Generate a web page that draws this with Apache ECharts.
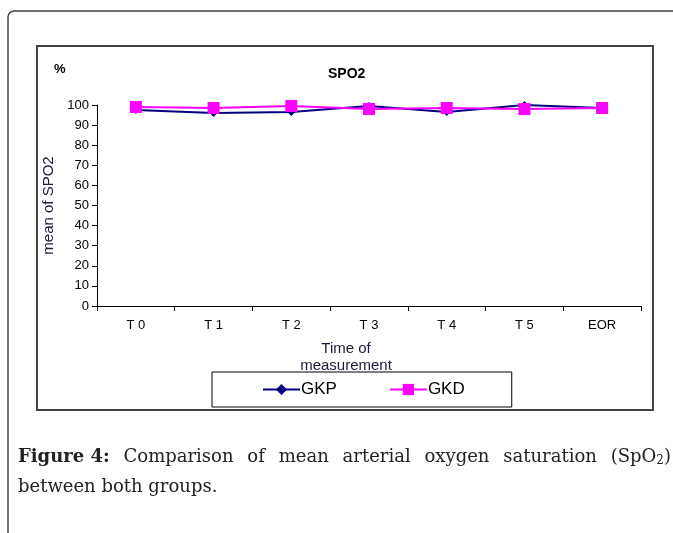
<!DOCTYPE html>
<html>
<head>
<meta charset="utf-8">
<script src="https://cdn.jsdelivr.net/npm/echarts@6/dist/echarts.min.js"></script>
<style>
html,body{margin:0;padding:0;background:#fff;}
#c{width:673px;height:533px;}
</style>
</head>
<body>
<div id="c"></div>
<script>
const categories = ['T 0', 'T 1', 'T 2', 'T 3', 'T 4', 'T 5', 'EOR'];
const gkp = [97.5, 96, 96.5, 99.5, 96.5, 100, 98.5];
const gkd = [99, 98.5, 99.5, 98, 98.5, 98, 98.5];
const yTicks = [0, 10, 20, 30, 40, 50, 60, 70, 80, 90, 100];

const chart = echarts.init(document.getElementById('c'), null, {renderer: 'canvas'});

// caption justification helper
const ctx = document.createElement('canvas').getContext('2d');
function tw(text, font) { ctx.font = font; return ctx.measureText(text).width; }
const capFontR = '18px "DejaVu Serif"';
const capFontB = 'bold 18px "DejaVu Serif"';
const subFont = '12px "DejaVu Serif"';
const line1 = [
  {t: 'Figure 4:', b: true},
  {t: 'Comparison'}, {t: 'of'}, {t: 'mean'}, {t: 'arterial'},
  {t: 'oxygen'}, {t: 'saturation'}, {t: '(SpO', sub: true}
];
const capLeft = 18, capRight = 671;
const subW = tw('2', subFont) + tw(')', capFontR);
let total = 0;
line1.forEach(w => { w.w = tw(w.t, w.b ? capFontB : capFontR) + (w.sub ? subW : 0); total += w.w; });
const gap = (capRight - capLeft - total) / (line1.length - 1);
const capEls = [];
let cx = capLeft;
line1.forEach(w => {
  if (w.sub) {
    capEls.push({type: 'text', left: cx, top: 448, style: {
      text: '{a|(SpO}{s|2}{a|)}',
      rich: {a: {font: capFontR, fill: '#222'}, s: {font: subFont, fill: '#222', verticalAlign: 'bottom', padding: [8, 0, 0, 0]}}
    }});
  } else {
    capEls.push({type: 'text', left: cx, top: 448, style: {text: w.t, font: w.b ? capFontB : capFontR, fill: '#222'}});
  }
  cx += w.w + gap;
});
capEls.push({type: 'text', left: capLeft, top: 478, style: {text: 'between both groups.', font: capFontR, fill: '#222'}});

const option = {
  backgroundColor: '#fff',
  animation: false,
  title: {
    text: 'SPO2', left: 323, top: 62,
    textStyle: {fontFamily: 'Liberation Sans', fontSize: 14, fontWeight: 'bold', color: '#000'}
  },
  grid: {left: 97, right: 32, top: 105, bottom: 227, containLabel: false},
  legend: {
    left: 212, top: 372, width: 300,
    padding: [9, 47, 9, 50],
    borderColor: '#000', borderWidth: 1,
    itemWidth: 37, itemHeight: 14, itemGap: 52,
    textStyle: {fontFamily: 'Liberation Sans', fontSize: 17, color: '#000', padding: [0, 0, 0, -4]},
    data: ['GKP', 'GKD']
  },
  xAxis: {
    type: 'category', data: categories, boundaryGap: true,
    name: 'Time of\nmeasurement', nameLocation: 'middle', nameGap: 34,
    nameTextStyle: {fontFamily: 'Liberation Sans', fontSize: 15, color: '#1a1a3a', lineHeight: 17, verticalAlign: 'top', padding: [0, 46, 0, 0]},
    axisLine: {lineStyle: {color: '#000', width: 1}},
    axisTick: {show: true, inside: false, length: 5, alignWithLabel: false, lineStyle: {color: '#000'}},
    axisLabel: {fontFamily: 'Liberation Sans', fontSize: 13, color: '#000', margin: 13},
    splitLine: {show: false}
  },
  yAxis: {
    type: 'value', min: 0, max: 100, interval: 10,
    name: 'mean of SPO2', nameLocation: 'middle', nameGap: 40,
    nameTextStyle: {fontFamily: 'Liberation Sans', fontSize: 15, color: '#1a1a3a'},
    axisLine: {show: true, lineStyle: {color: '#000', width: 1}},
    axisTick: {show: true, length: 5, lineStyle: {color: '#000'}},
    axisLabel: {fontFamily: 'Liberation Sans', fontSize: 13, color: '#000', margin: 8,
      formatter: v => yTicks.includes(v) ? String(v) : ''},
    splitLine: {show: false}
  },
  series: [
    {
      name: 'GKP', type: 'line', data: gkp,
      symbol: 'diamond', symbolSize: 8,
      lineStyle: {color: '#000080', width: 2},
      itemStyle: {color: '#000080'}
    },
    {
      name: 'GKD', type: 'line', data: gkd,
      symbol: 'rect', symbolSize: 12,
      lineStyle: {color: '#ff00ff', width: 2},
      itemStyle: {color: '#ff00ff'}
    }
  ],
  graphic: [
    {type: 'rect', shape: {x: 8, y: 11, width: 700, height: 560, r: 6}, style: {fill: 'none', stroke: '#444', lineWidth: 1.5}, silent: true, z: -1},
    {type: 'rect', shape: {x: 37, y: 46, width: 616, height: 364}, style: {fill: 'none', stroke: '#444', lineWidth: 2}, silent: true, z: -1},
    {type: 'text', left: 54, top: 63, style: {text: '%', font: 'bold 13px "Liberation Sans"', fill: '#000'}}
  ].concat(capEls)
};
chart.setOption(option);
</script>
</body>
</html>
